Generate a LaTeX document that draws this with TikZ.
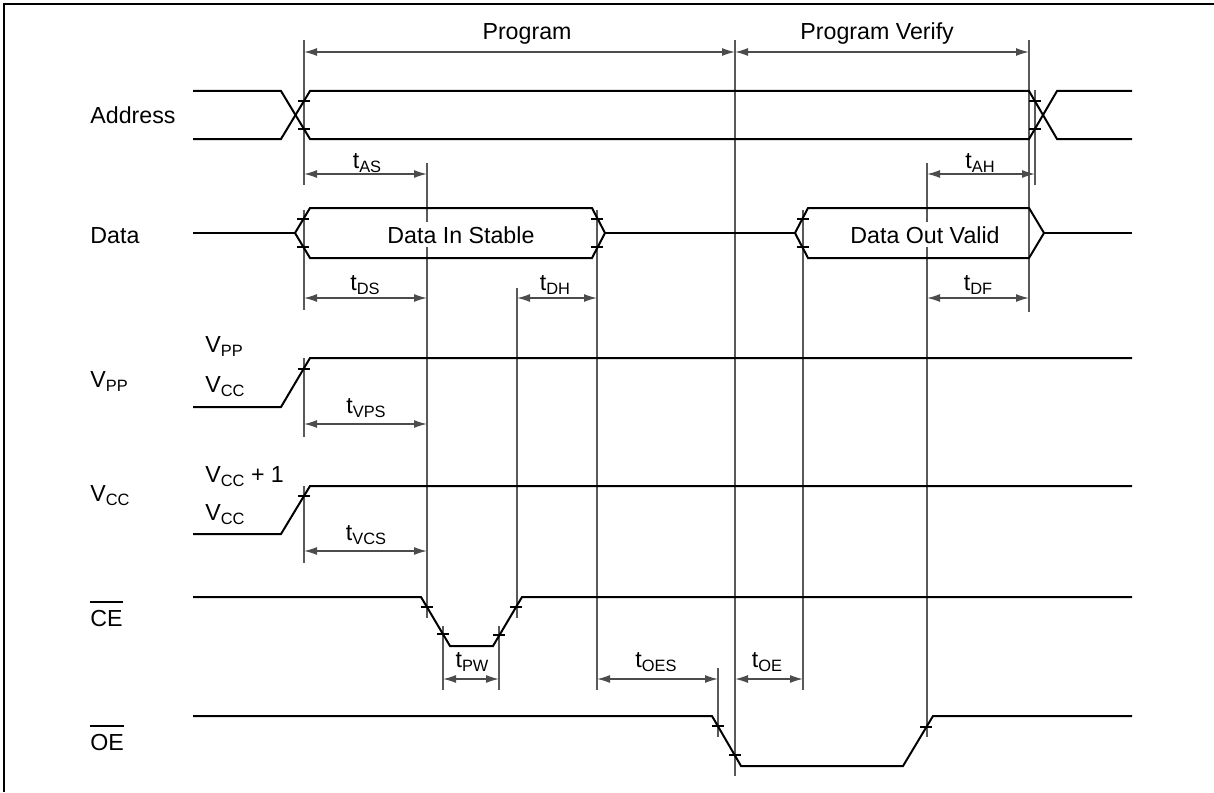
\documentclass[tikz,border=0pt]{standalone}
\usepackage{fontspec}
\setmainfont{Liberation Sans}
\usetikzlibrary{arrows.meta}

\newcommand{\tsig}[2]{#1\raisebox{-2.2pt}{\fontsize{8.2}{10}\selectfont #2}}
\newcommand{\ovl}[1]{\vbox{\hrule height 0.7pt\kern 3.5pt\hbox{#1}}}

\begin{document}
\begin{tikzpicture}[x=0.5pt, y=-0.5pt,
    every node/.style={font=\fontsize{11.6}{14}\selectfont, inner sep=0pt},
    sig/.style={line width=1pt, line join=miter},
    guide/.style={line width=0.6pt, black!65},
    dim/.style={line width=0.7pt, black!70, {Latex[length=6.5pt,width=4pt]}-{Latex[length=6.5pt,width=4pt]}},
    tickmark/.style={line width=0.6pt}]
            \useasboundingbox (0,0) rectangle (1214,792);
            \draw[line width=1pt] (1214,4) -- (4,4) -- (4,792);

            % guide lines
            \foreach \x/\a/\b in {304/40/185, 304/210/310, 304/358/437, 304/486/563,
                427/163/618, 517/288/618, 597/210/690, 735/40/776, 803/210/690,
                927/163/737, 1029/40/312, 1035/90/185, 443/626/690, 499/626/690, 718/668/737}
                \draw[guide] (\x,\a) -- (\x,\b);

            % signals
            \draw[sig] (193,91) -- (281,91) -- (310,139) -- (1029,139) -- (1057,91) -- (1132,91);
            \draw[sig] (193,139) -- (281,139) -- (310,91) -- (1029,91) -- (1057,139) -- (1132,139);
            \draw[sig] (193,233) -- (295,233);
            \draw[sig] (295,233) -- (310,208) -- (592,208) -- (605,233) -- (592,258) -- (310,258) -- cycle;
            \draw[sig] (605,233) -- (795,233);
            \draw[sig] (795,233) -- (808,208) -- (1029,208) -- (1044,233) -- (1029,258) -- (808,258) -- cycle;
            \draw[sig] (1044,233) -- (1132,233);
            \draw[sig] (193,407) -- (281,407) -- (310,358) -- (1132,358);
            \draw[sig] (193,534) -- (281,534) -- (310,486) -- (1132,486);
            \draw[sig] (193,597) -- (421,597) -- (450,646) -- (493,646) -- (522,597) -- (1132,597);
            \draw[sig] (193,716) -- (712,716) -- (741,766) -- (903,766) -- (933,716) -- (1132,716);

            % ticks
            \foreach \x/\y in {304/101, 304/129, 1035/101, 1035/129, 303/219, 303/247,
                597/219, 597/247, 803/219, 803/247, 304/369, 304/496,
                427/607, 443/634, 499/635, 516/607, 718/726, 735/755, 926/727}
                \draw[tickmark] (\x-6,\y) -- (\x+6,\y);

            % timing arrows
            \draw[dim] (304,52) -- (735,52);
            \draw[dim] (735,52) -- (1029,52);
            \draw[dim] (304,174) -- (427,174);
            \draw[dim] (927,174) -- (1035,174);
            \draw[dim] (304,298) -- (427,298);
            \draw[dim] (517,298) -- (597,298);
            \draw[dim] (927,298) -- (1029,298);
            \draw[dim] (304,424) -- (427,424);
            \draw[dim] (304,551) -- (427,551);
            \draw[dim] (443,679) -- (499,679);
            \draw[dim] (597,679) -- (718,679);
            \draw[dim] (735,679) -- (803,679);

            % signal names
            \draw
                (90,124) node[anchor=base west] (address) {Address};
            \draw
                (90,243) node[anchor=base west] (data) {Data};
            \draw
                (90,387) node[anchor=base west] (vpp) {\tsig{V}{PP}};
            \draw
                (90,501) node[anchor=base west] (vcc) {\tsig{V}{CC}};
            \draw
                (90,626) node[anchor=base west] (ce) {\ovl{CE}};
            \draw
                (90,750) node[anchor=base west] (oe) {\ovl{OE}};

            % levels
            \draw (205,352) node[anchor=base west] (vpphi) {\tsig{V}{PP}};
            \draw (205,392) node[anchor=base west] (vpplo) {\tsig{V}{CC}};
            \draw (205,482) node[anchor=base west] (vcchi) {\tsig{V}{CC} + 1};
            \draw (205,520) node[anchor=base west] (vcclo) {\tsig{V}{CC}};

            % bus texts
            \draw (383,243) node[anchor=base west, fill=white, inner sep=2pt] (din) {Data In Stable};
            \draw (1004,243) node[anchor=base east, fill=white, inner sep=2pt] (dout) {Data Out Valid};
            \draw (527,40) node[anchor=base] (prog) {Program};
            \draw (800,40) node[anchor=base west] (verify) {Program Verify};

            % timing names
            \draw (367,168) node[anchor=base] (tas) {\tsig{t}{AS}};
            \draw (980,168) node[anchor=base] (tah) {\tsig{t}{AH}};
            \draw (365,290) node[anchor=base] (tds) {\tsig{t}{DS}};
            \draw (555,290) node[anchor=base] (tdh) {\tsig{t}{DH}};
            \draw (978,290) node[anchor=base] (tdf) {\tsig{t}{DF}};
            \draw (366,413) node[anchor=base] (tvps) {\tsig{t}{VPS}};
            \draw (366,540) node[anchor=base] (tvcs) {\tsig{t}{VCS}};
            \draw (472,667) node[anchor=base] (tpw) {\tsig{t}{PW}};
            \draw (656,667) node[anchor=base] (toes) {\tsig{t}{OES}};
            \draw (767,667) node[anchor=base] (toe) {\tsig{t}{OE}};
\end{tikzpicture}
\end{document}
